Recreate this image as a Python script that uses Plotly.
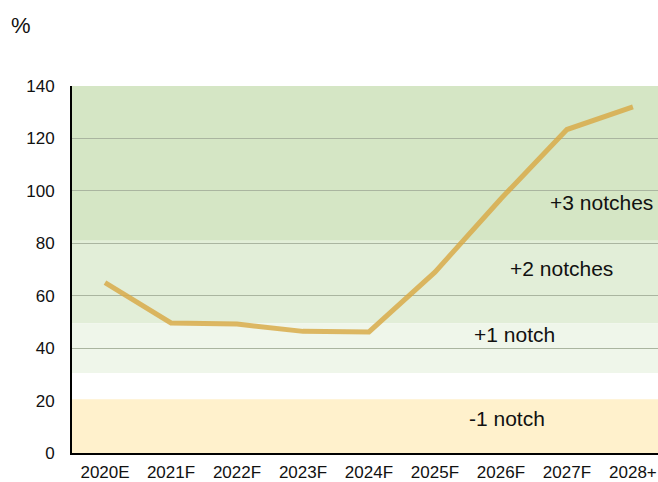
import plotly.graph_objects as go

categories = ["2020E", "2021F", "2022F", "2023F", "2024F", "2025F", "2026F", "2027F", "2028+"]
values = [65, 49.6, 49.2, 46.4, 46.2, 69, 97, 123.4, 132]

band_names = ["+3 notches", "+2 notches", "+1 notch", "-1 notch"]
band_low = [81, 49.5, 30.5, 0]
band_high = [140, 81, 49.5, 20.5]
band_colors = ["#d5e6c5", "#e2eed8", "#eff6ea", "#fff1cc"]
label_x = [7.52, 6.92, 6.2, 6.09]
label_y = [95.5, 70.5, 45.2, 13]
grid_vals = [40, 60, 80, 100, 120, 140]

FONT = "Liberation Sans, Arial, sans-serif"

fig = go.Figure()
fig.add_trace(go.Scatter(
    x=categories, y=values, mode="lines",
    line=dict(color="rgba(216,168,68,0.82)", width=5),
    showlegend=False, hoverinfo="skip",
))
# invisible trace carrying the gridline axis
fig.add_trace(go.Scatter(x=categories, y=values, yaxis="y2", mode="none",
                         showlegend=False, hoverinfo="skip"))

for lo, hi, col in zip(band_low, band_high, band_colors):
    fig.add_shape(type="rect", xref="paper", x0=0, x1=1, yref="y", y0=lo, y1=hi,
                  fillcolor=col, line=dict(width=0), layer="below")

for name, lx, ly in zip(band_names, label_x, label_y):
    fig.add_annotation(x=lx, y=ly, xref="x", yref="y", text=name, showarrow=False,
                       font=dict(family=FONT, size=21, color="#111111"))

fig.add_annotation(x=-0.107, y=1.1635, xref="paper", yref="paper", text="%",
                   showarrow=False, xanchor="left", yanchor="middle",
                   font=dict(family=FONT, size=22, color="#111111"))

fig.update_layout(
    width=658, height=482,
    margin=dict(l=72, r=0, t=86, b=29),
    paper_bgcolor="white", plot_bgcolor="white",
    font=dict(family=FONT, size=17, color="#111111"),
    xaxis=dict(type="category", range=[-0.5, 8.38], showgrid=False,
               showline=True, linecolor="black", linewidth=2,
               ticks="", ticklabelstandoff=3, fixedrange=True),
    yaxis=dict(range=[0, 140], dtick=20, showgrid=False,
               zeroline=False, showline=True, linecolor="black",
               linewidth=2, ticks="", ticklabelstandoff=12, fixedrange=True),
    yaxis2=dict(range=[0, 140], overlaying="y", side="left", tickvals=grid_vals,
                showticklabels=False, showgrid=True, gridcolor="#aab5a0", gridwidth=1,
                zeroline=False, showline=False, ticks="", fixedrange=True),
)

fig.write_html("out.html", config={"displayModeBar": False},
               post_script="document.body.style.margin='0';document.body.style.overflow='hidden';")
